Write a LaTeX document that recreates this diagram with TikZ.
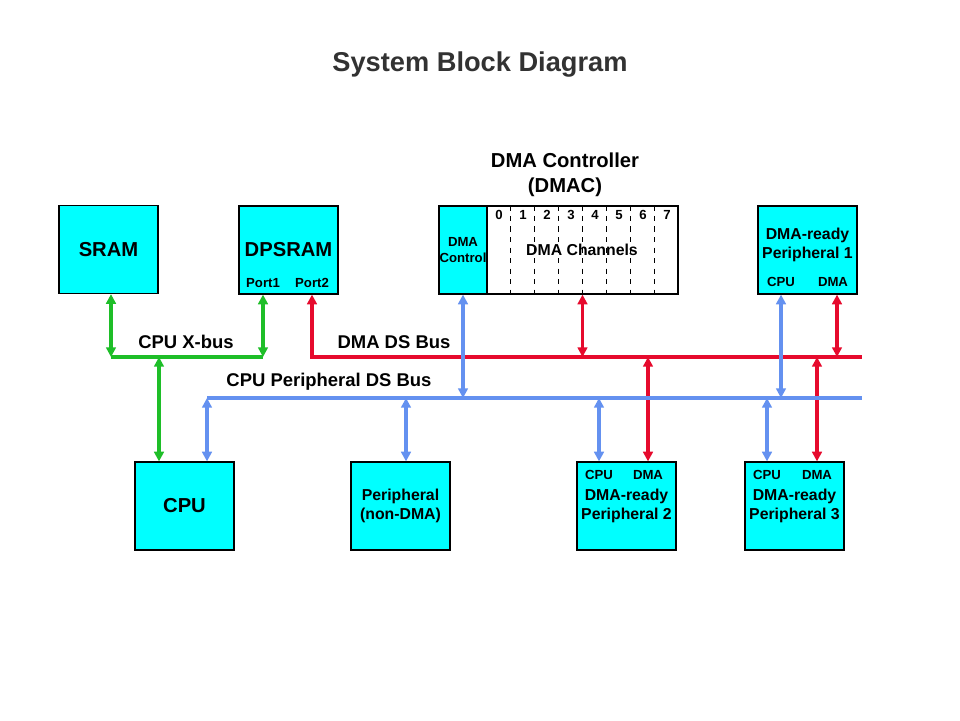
\documentclass[tikz,border=0pt]{standalone}
\usepackage{fontspec}
\setmainfont{Liberation Sans}
\usetikzlibrary{arrows.meta}

\definecolor{boxcyan}{RGB}{0,255,255}
\definecolor{busgreen}{RGB}{30,190,40}
\definecolor{busred}{RGB}{230,10,45}
\definecolor{busblue}{RGB}{100,145,240}
\definecolor{titlegray}{RGB}{50,50,50}

\begin{document}
\begin{tikzpicture}[x=0.02cm, y=-0.02cm,
  >={Triangle[length=5.5pt,width=5.5pt]},
  blk/.style={draw=black, line width=0.7pt, fill=boxcyan, inner sep=0pt,
              minimum width=1.98cm, minimum height=1.76cm},
  bigtxt/.style={font=\fontsize{11.5}{13}\selectfont\bfseries},
  midtxt/.style={font=\fontsize{9}{10.4}\selectfont\bfseries, align=center},
  smalltxt/.style={font=\fontsize{7.5}{9}\selectfont\bfseries, align=center},
  buslbl/.style={font=\fontsize{10.5}{12}\selectfont\bfseries},
  gbus/.style={busgreen, line width=1.9pt},
  rbus/.style={busred, line width=1.9pt},
  bbus/.style={busblue, line width=1.9pt},
  garr/.style={busgreen, line width=1.9pt, <->},
  rarr/.style={busred, line width=1.9pt, <->},
  barr/.style={busblue, line width=1.9pt, <->}]

\useasboundingbox (0,0) rectangle (960,720);

% Title
\node[font=\fontsize{15.5}{18}\selectfont\bfseries, text=titlegray] (title) at (480,65) {System Block Diagram};

% Top row
\node[blk, bigtxt] (sram) at (108.5,249.5) {SRAM};
\node[blk, bigtxt] (dpsram) at (288.5,250) {DPSRAM};
\node[smalltxt] (port1) at (263,283) {Port1};
\node[smalltxt] (port2) at (312,283) {Port2};

% DMA controller
\node[font=\fontsize{11.5}{14}\selectfont\bfseries, align=center] (dmaclbl) at (565,175) {DMA Controller\\(DMAC)};
\node[blk, minimum width=0.96cm] (dmactl) at (463,250) {};
\node[smalltxt, font=\fontsize{7.5}{9.4}\selectfont\bfseries] at (dmactl) {DMA\\Control};
\node[draw=black, line width=0.7pt, fill=white, inner sep=0pt,
      minimum width=3.82cm, minimum height=1.76cm] (dmach) at (582.5,250) {};
\foreach \i in {1,...,7}
  \draw[dashed, line width=0.5pt] ([xshift=\i*0.48cm]dmach.north west) -- ([xshift=\i*0.48cm]dmach.south west);
\foreach \i in {0,...,7}
  \node[smalltxt] (ch\i) at (499+24*\i,215) {\i};
\node[midtxt] (chlbl) at (582,250) {DMA Channels};

\node[blk] (per1) at (807.5,250) {};
\node[midtxt] at (807.5,250) [yshift=0.1cm] {DMA-ready\\Peripheral 1};
\node[smalltxt] (per1cpu) at (781,282) {CPU};
\node[smalltxt] (per1dma) at (833,282) {DMA};

% Bottom row
\node[blk, bigtxt] (cpu) at (184.5,506) {CPU};
\node[blk, midtxt, font=\fontsize{9}{10.8}\selectfont\bfseries] (pnd) at (400.5,506) {Peripheral\\(non-DMA)};

\node[blk] (per2) at (626.5,506) {};
\node[midtxt] at (626.5,506) {DMA-ready\\Peripheral 2};
\node[smalltxt] (per2cpu) at (599,475) {CPU};
\node[smalltxt] (per2dma) at (648,475) {DMA};

\node[blk] (per3) at (794.5,506) {};
\node[midtxt] at (794.5,506) {DMA-ready\\Peripheral 3};
\node[smalltxt] (per3cpu) at (767,475) {CPU};
\node[smalltxt] (per3dma) at (817,475) {DMA};

% Bus end points
\coordinate (xbL) at (111,357);
\coordinate (xbR) at (263,357);
\coordinate (xbC) at (159,357);
\coordinate (rbR) at (862,357);
\coordinate (bbL) at (207,398);
\coordinate (bbR) at (862,398);

% CPU X-bus (green)
\draw[gbus] (xbL) -- (xbR);
\draw[garr] (sram.south -| xbL) -- (xbL);
\draw[garr] (port1 |- dpsram.south) -- (xbR);
\draw[garr] (xbC) -- (cpu.north -| xbC);
\node[buslbl] (xlbl) at (186,342) {CPU X-bus};

% DMA DS bus (red)
\draw[rbus] (port2 |- dpsram.south) ++(0,5) |- (rbR);
\draw[busred, line width=1.9pt, ->] (port2 |- xbR) -- (port2 |- dpsram.south);
\draw[rarr] (dmach.south) -- (dmach.south |- rbR);
\draw[rarr] ([xshift=0.08cm]per1dma |- per1.south) -- ([xshift=0.08cm]per1dma |- rbR);
\draw[rarr] (per2dma |- rbR) -- (per2dma |- per2.north);
\draw[rarr] (per3dma |- rbR) -- (per3dma |- per3.north);
\node[buslbl] (rlbl) at (394,342) {DMA DS Bus};

% CPU peripheral DS bus (blue)
\draw[bbus] (bbL) -- (bbR);
\draw[barr] (bbL) -- (cpu.north -| bbL);
\draw[barr] (dmactl.south) -- (dmactl.south |- bbR);
\draw[barr] (per1cpu |- per1.south) -- (per1cpu |- bbR);
\draw[barr] (pnd.north -| 406,0) -- (406,398);
\draw[barr] (per2cpu |- bbR) -- (per2cpu |- per2.north);
\draw[barr] (per3cpu |- bbR) -- (per3cpu |- per3.north);
\node[buslbl] (blbl) at (329,382) {CPU Peripheral DS Bus};

\end{tikzpicture}
\end{document}
